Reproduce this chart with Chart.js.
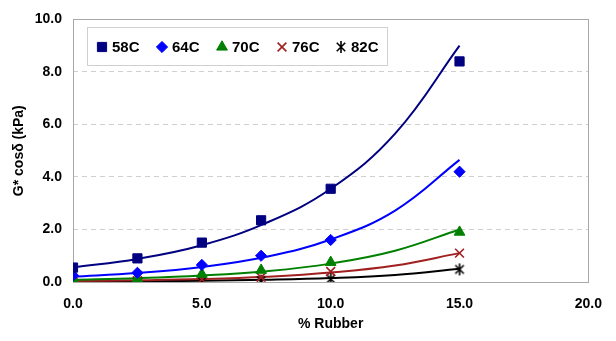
<!DOCTYPE html>
<html><head><meta charset="utf-8">
<script src="https://cdn.jsdelivr.net/npm/chart.js@4/dist/chart.umd.min.js"></script>
<style>html,body{margin:0;padding:0;background:#fff}#wrap{width:616px;height:341px}</style>
</head><body><div id="wrap"><canvas id="c" width="616" height="341"></canvas></div>
<script>
// Measured points (% Rubber vs G* cosδ, kPa)
const rubberPts = [0, 2.5, 5, 7.3, 10, 15];
const s58 = [0.55, 0.9, 1.5, 2.35, 3.55, 8.4];
const s64 = [0.25, 0.35, 0.65, 1.0, 1.6, 4.2];
const s70 = [0.08, 0.12, 0.3, 0.45, 0.75, 1.9];
const s76 = [0.02, 0.05, 0.1, 0.18, 0.4, 1.1];
const s82 = [0.0, 0.02, 0.03, 0.05, 0.12, 0.48];
// Trend curves
const rubberFit = [0, 2.5, 5, 7.5, 10, 12.5, 15];
const f58 = [0.55, 0.88, 1.40, 2.25, 3.55, 5.65, 9.0];
const f64 = [0.2, 0.34, 0.57, 0.96, 1.62, 2.72, 4.65];
const f70 = [0.085, 0.145, 0.245, 0.41, 0.70, 1.19, 2.0];
const f76 = [0.036, 0.063, 0.11, 0.20, 0.36, 0.63, 1.1];
const f82 = [0.014, 0.025, 0.046, 0.085, 0.15, 0.27, 0.5];
const seriesNames = ['58C', '64C', '70C', '76C', '82C'];
const xTicks = [0, 5, 10, 15, 20];
const yTicks = [0, 2, 4, 6, 8, 10];

const colors = ['#000080', '#0000FF', '#008000', '#A02020', '#000000'];
const styles = ['rect', 'rectRot', 'triangle', 'crossRot', 'xstar'];
const radii = [6.5, 5.6, 6.2, 6.2, 6];
const ptSets = [s58, s64, s70, s76, s82];
const fitSets = [f58, f64, f70, f76, f82];

function marker(ctx, style, r, x, y) {
  ctx.beginPath();
  if (style === 'rect') {
    const s = r * Math.SQRT1_2;
    ctx.rect(x - s, y - s, 2 * s, 2 * s); ctx.fill(); ctx.stroke();
  } else if (style === 'rectRot') {
    ctx.moveTo(x, y - r); ctx.lineTo(x + r, y); ctx.lineTo(x, y + r); ctx.lineTo(x - r, y); ctx.closePath(); ctx.fill(); ctx.stroke();
  } else if (style === 'triangle') {
    ctx.moveTo(x, y - r);
    ctx.lineTo(x + Math.cos(Math.PI / 6) * r, y + Math.sin(Math.PI / 6) * r);
    ctx.lineTo(x - Math.cos(Math.PI / 6) * r, y + Math.sin(Math.PI / 6) * r);
    ctx.closePath(); ctx.fill(); ctx.stroke();
  } else if (style === 'crossRot') {
    const d = r * Math.SQRT1_2;
    ctx.moveTo(x - d, y - d); ctx.lineTo(x + d, y + d);
    ctx.moveTo(x - d, y + d); ctx.lineTo(x + d, y - d); ctx.stroke();
  } else if (style === 'xstar') {
    const d = r * Math.SQRT1_2;
    ctx.moveTo(x - d, y - d); ctx.lineTo(x + d, y + d);
    ctx.moveTo(x - d, y + d); ctx.lineTo(x + d, y - d);
    ctx.moveTo(x, y - r); ctx.lineTo(x, y + r); ctx.stroke();
  }
}

// Asterisk (X with vertical bar) marker image for the 82C series
const starImg = document.createElement('canvas');
starImg.width = 16; starImg.height = 16;
(() => { const c = starImg.getContext('2d'); c.strokeStyle = '#000'; c.lineWidth = 1.6; marker(c, 'xstar', 6, 8, 8); })();

const FONT = 'Arial, "Liberation Sans", sans-serif';
const datasets = [];
ptSets.forEach((s, i) => {
  datasets.push({
    label: seriesNames[i], type: 'scatter', order: 0,
    data: rubberPts.map((x, k) => ({x, y: s[k]})),
    showLine: false, pointStyle: styles[i] === 'xstar' ? starImg : styles[i],
    pointRadius: radii[i], pointHoverRadius: radii[i],
    backgroundColor: colors[i], borderColor: colors[i],
    borderWidth: (i >= 3) ? 1.6 : 1
  });
});
fitSets.forEach((s, i) => {
  datasets.push({
    label: seriesNames[i] + ' fit', type: 'line', order: 1,
    data: rubberFit.map((x, k) => ({x, y: s[k]})),
    borderColor: colors[i], borderWidth: 2, pointRadius: 0, fill: false,
    tension: 0.4
  });
});

const frame = {
  id: 'frame',
  beforeDatasetsDraw(chart) {
    const {ctx, chartArea: a} = chart;
    ctx.save();
    ctx.strokeStyle = '#a8a8a8'; ctx.lineWidth = 1;
    ctx.strokeRect(Math.round(a.left) + 0.5, Math.round(a.top) + 0.5, Math.round(a.right - a.left), Math.round(a.bottom - a.top));
    ctx.restore();
  },
  afterDraw(chart) {
    const {ctx} = chart;
    ctx.save();
    ctx.fillStyle = '#fff';
    ctx.fillRect(88, 27, 300, 38);
    ctx.strokeStyle = '#d0d0d0'; ctx.lineWidth = 1;
    ctx.strokeRect(87.5, 27.5, 300, 38);
    const cy = 47;
    const mx = [102, 162, 222, 282, 341];
    ctx.font = 'bold 15px ' + FONT;
    ctx.textBaseline = 'middle';
    seriesNames.forEach((n, i) => {
      ctx.fillStyle = colors[i]; ctx.strokeStyle = colors[i];
      ctx.lineWidth = (i >= 3) ? 1.6 : 1;
      marker(ctx, styles[i], radii[i], mx[i], cy);
      ctx.fillStyle = '#000';
      ctx.fillText(n, mx[i] + 10, cy + 1);
    });
    ctx.restore();
  }
};

new Chart(document.getElementById('c'), {
  data: {datasets},
  plugins: [frame],
  options: {
    responsive: false, animation: false,
    layout: {padding: {top: 15, right: 14, left: 0, bottom: 0}},
    plugins: {legend: {display: false}, tooltip: {enabled: false}},
    scales: {
      x: {
        type: 'linear', min: 0, max: 20,
        afterBuildTicks: s => { s.ticks = xTicks.map(v => ({value: v})); },
        afterFit: s => { s.height = 59; },
        ticks: {callback: v => Number(v).toFixed(1), color: '#000', padding: 14, font: {family: FONT, size: 14, weight: 'bold'}, maxRotation: 0},
        grid: {display: false, drawTicks: false},
        border: {display: false},
        title: {display: true, text: '% Rubber', color: '#000', font: {family: FONT, size: 14, weight: 'bold'}, padding: {top: 0, bottom: 8}}
      },
      y: {
        type: 'linear', min: 0, max: 10,
        afterBuildTicks: s => { s.ticks = yTicks.map(v => ({value: v})); },
        afterFit: s => { s.width = 73; },
        ticks: {callback: v => Number(v).toFixed(1), color: '#000', padding: 11, font: {family: FONT, size: 14, weight: 'bold'}},
        grid: {color: '#cfcfcf', lineWidth: 1, drawTicks: false},
        border: {display: false, dash: [5, 4]},
        title: {display: true, text: 'G* cosδ (kPa)', color: '#000', font: {family: FONT, size: 14, weight: 'bold'}, padding: {top: 11, bottom: 0}}
      }
    }
  }
});
</script></body></html>
